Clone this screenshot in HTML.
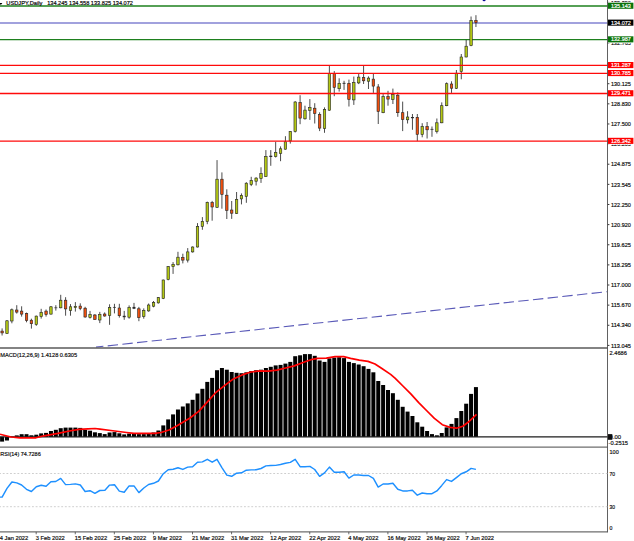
<!DOCTYPE html>
<html><head><meta charset="utf-8"><title>USDJPY Daily</title>
<style>html,body{margin:0;padding:0;background:#fff;}body{width:634px;height:541px;overflow:hidden;font-family:"Liberation Sans",sans-serif;}svg{display:block}</style>
</head><body>
<svg width="634" height="541" viewBox="0 0 634 541" font-family="'Liberation Sans', sans-serif" font-size="6.1" fill="#0c0c0c">
<rect width="634" height="541" fill="#fff"/>
<line x1="607.5" y1="345.40" x2="609.4" y2="345.40" stroke="#222" stroke-width="0.9"/>
<text x="611.0" y="347.5" textLength="19.9" lengthAdjust="spacingAndGlyphs" stroke="#0c0c0c" stroke-width="0.18">113.045</text>
<line x1="607.5" y1="325.27" x2="609.4" y2="325.27" stroke="#222" stroke-width="0.9"/>
<text x="611.0" y="327.4" textLength="19.9" lengthAdjust="spacingAndGlyphs" stroke="#0c0c0c" stroke-width="0.18">114.340</text>
<line x1="607.5" y1="305.14" x2="609.4" y2="305.14" stroke="#222" stroke-width="0.9"/>
<text x="611.0" y="307.3" textLength="19.9" lengthAdjust="spacingAndGlyphs" stroke="#0c0c0c" stroke-width="0.18">115.670</text>
<line x1="607.5" y1="285.01" x2="609.4" y2="285.01" stroke="#222" stroke-width="0.9"/>
<text x="611.0" y="287.2" textLength="19.9" lengthAdjust="spacingAndGlyphs" stroke="#0c0c0c" stroke-width="0.18">117.000</text>
<line x1="607.5" y1="264.88" x2="609.4" y2="264.88" stroke="#222" stroke-width="0.9"/>
<text x="611.0" y="267.0" textLength="19.9" lengthAdjust="spacingAndGlyphs" stroke="#0c0c0c" stroke-width="0.18">118.295</text>
<line x1="607.5" y1="244.75" x2="609.4" y2="244.75" stroke="#222" stroke-width="0.9"/>
<text x="611.0" y="246.9" textLength="19.9" lengthAdjust="spacingAndGlyphs" stroke="#0c0c0c" stroke-width="0.18">119.625</text>
<line x1="607.5" y1="224.62" x2="609.4" y2="224.62" stroke="#222" stroke-width="0.9"/>
<text x="611.0" y="226.8" textLength="19.9" lengthAdjust="spacingAndGlyphs" stroke="#0c0c0c" stroke-width="0.18">120.920</text>
<line x1="607.5" y1="204.49" x2="609.4" y2="204.49" stroke="#222" stroke-width="0.9"/>
<text x="611.0" y="206.6" textLength="19.9" lengthAdjust="spacingAndGlyphs" stroke="#0c0c0c" stroke-width="0.18">122.250</text>
<line x1="607.5" y1="184.36" x2="609.4" y2="184.36" stroke="#222" stroke-width="0.9"/>
<text x="611.0" y="186.5" textLength="19.9" lengthAdjust="spacingAndGlyphs" stroke="#0c0c0c" stroke-width="0.18">123.545</text>
<line x1="607.5" y1="164.23" x2="609.4" y2="164.23" stroke="#222" stroke-width="0.9"/>
<text x="611.0" y="166.4" textLength="19.9" lengthAdjust="spacingAndGlyphs" stroke="#0c0c0c" stroke-width="0.18">124.875</text>
<line x1="607.5" y1="144.10" x2="609.4" y2="144.10" stroke="#222" stroke-width="0.9"/>
<text x="611.0" y="146.2" textLength="19.9" lengthAdjust="spacingAndGlyphs" stroke="#0c0c0c" stroke-width="0.18">126.205</text>
<line x1="607.5" y1="123.97" x2="609.4" y2="123.97" stroke="#222" stroke-width="0.9"/>
<text x="611.0" y="126.1" textLength="19.9" lengthAdjust="spacingAndGlyphs" stroke="#0c0c0c" stroke-width="0.18">127.500</text>
<line x1="607.5" y1="103.84" x2="609.4" y2="103.84" stroke="#222" stroke-width="0.9"/>
<text x="611.0" y="106.0" textLength="19.9" lengthAdjust="spacingAndGlyphs" stroke="#0c0c0c" stroke-width="0.18">128.830</text>
<line x1="607.5" y1="83.71" x2="609.4" y2="83.71" stroke="#222" stroke-width="0.9"/>
<text x="611.0" y="85.9" textLength="19.9" lengthAdjust="spacingAndGlyphs" stroke="#0c0c0c" stroke-width="0.18">130.125</text>
<line x1="607.5" y1="63.58" x2="609.4" y2="63.58" stroke="#222" stroke-width="0.9"/>
<text x="611.0" y="65.7" textLength="19.9" lengthAdjust="spacingAndGlyphs" stroke="#0c0c0c" stroke-width="0.18">131.455</text>
<line x1="607.5" y1="42.95" x2="609.4" y2="42.95" stroke="#222" stroke-width="0.9"/>
<text x="611.0" y="45.1" textLength="19.9" lengthAdjust="spacingAndGlyphs" stroke="#0c0c0c" stroke-width="0.18">132.765</text>
<line x1="607.5" y1="23.32" x2="609.4" y2="23.32" stroke="#222" stroke-width="0.9"/>
<text x="611.0" y="25.5" textLength="19.9" lengthAdjust="spacingAndGlyphs" stroke="#0c0c0c" stroke-width="0.18">134.095</text>
<line x1="607.5" y1="2.39" x2="609.4" y2="2.39" stroke="#222" stroke-width="0.9"/>
<text x="611.0" y="4.5" textLength="19.9" lengthAdjust="spacingAndGlyphs" stroke="#0c0c0c" stroke-width="0.18">135.390</text>
<line x1="0" y1="6.00" x2="607.5" y2="6.00" stroke="#1e801e" stroke-width="1.3"/>
<line x1="0" y1="22.90" x2="607.5" y2="22.90" stroke="#8282d2" stroke-width="1.55"/>
<line x1="0" y1="39.60" x2="607.5" y2="39.60" stroke="#1e801e" stroke-width="1.3"/>
<line x1="96.0" y1="347.1" x2="606.9" y2="291.7" stroke="#5a5ab8" stroke-width="1.1" stroke-dasharray="10.4 4.35" stroke-dashoffset="2.98"/>
<path d="M-0.8 2.9 L2.4 2.9 L0.8 4.9 Z" fill="#000"/>
<text x="6.3" y="5.2" textLength="36.1" lengthAdjust="spacingAndGlyphs" fill="#000" stroke="#000" stroke-width="0.18">USDJPY,Daily</text>
<text x="47.2" y="5.2" textLength="85.8" lengthAdjust="spacingAndGlyphs" fill="#000" stroke="#000" stroke-width="0.18">134.245 134.558 133.825 134.072</text>
<circle cx="484.1" cy="-0.3" r="1.6" fill="#0a0a96"/>
<line x1="2.10" y1="328.4" x2="2.10" y2="335.5" stroke="#1e1e1e" stroke-width="0.8"/>
<rect x="0.88" y="331.10" width="2.45" height="1.80" fill="#f0500f" stroke="#222" stroke-width="0.6"/>
<line x1="6.98" y1="320.0" x2="6.98" y2="333.7" stroke="#1e1e1e" stroke-width="0.8"/>
<rect x="5.76" y="320.80" width="2.45" height="12.90" fill="#b4c814" stroke="#222" stroke-width="0.6"/>
<line x1="11.87" y1="308.5" x2="11.87" y2="323.3" stroke="#1e1e1e" stroke-width="0.8"/>
<rect x="10.64" y="309.80" width="2.45" height="11.20" fill="#b4c814" stroke="#222" stroke-width="0.6"/>
<line x1="16.75" y1="305.2" x2="16.75" y2="313.6" stroke="#1e1e1e" stroke-width="0.8"/>
<rect x="15.53" y="310.00" width="2.45" height="2.10" fill="#f0500f" stroke="#222" stroke-width="0.6"/>
<line x1="21.64" y1="306.3" x2="21.64" y2="316.6" stroke="#1e1e1e" stroke-width="0.8"/>
<rect x="20.41" y="311.10" width="2.45" height="3.00" fill="#f0500f" stroke="#222" stroke-width="0.6"/>
<line x1="26.52" y1="312.6" x2="26.52" y2="322.3" stroke="#1e1e1e" stroke-width="0.8"/>
<rect x="25.30" y="313.60" width="2.45" height="6.90" fill="#f0500f" stroke="#222" stroke-width="0.6"/>
<line x1="31.41" y1="318.7" x2="31.41" y2="328.6" stroke="#1e1e1e" stroke-width="0.8"/>
<rect x="30.18" y="320.20" width="2.45" height="3.50" fill="#f0500f" stroke="#222" stroke-width="0.6"/>
<line x1="36.30" y1="315.6" x2="36.30" y2="325.8" stroke="#1e1e1e" stroke-width="0.8"/>
<rect x="35.07" y="316.10" width="2.45" height="8.40" fill="#b4c814" stroke="#222" stroke-width="0.6"/>
<line x1="41.18" y1="308.8" x2="41.18" y2="318.6" stroke="#1e1e1e" stroke-width="0.8"/>
<rect x="39.95" y="312.30" width="2.45" height="4.30" fill="#b4c814" stroke="#222" stroke-width="0.6"/>
<line x1="46.06" y1="309.5" x2="46.06" y2="316.6" stroke="#1e1e1e" stroke-width="0.8"/>
<rect x="44.84" y="311.10" width="2.45" height="3.50" fill="#f0500f" stroke="#222" stroke-width="0.6"/>
<line x1="50.95" y1="306.0" x2="50.95" y2="314.6" stroke="#1e1e1e" stroke-width="0.8"/>
<rect x="49.72" y="306.80" width="2.45" height="7.30" fill="#b4c814" stroke="#222" stroke-width="0.6"/>
<line x1="55.84" y1="305.2" x2="55.84" y2="310.6" stroke="#1e1e1e" stroke-width="0.8"/>
<line x1="54.34" y1="307.75" x2="57.34" y2="307.75" stroke="#2a2a2a" stroke-width="0.7"/>
<line x1="60.72" y1="294.8" x2="60.72" y2="308.3" stroke="#1e1e1e" stroke-width="0.8"/>
<rect x="59.49" y="300.20" width="2.45" height="7.60" fill="#b4c814" stroke="#222" stroke-width="0.6"/>
<line x1="65.60" y1="297.2" x2="65.60" y2="315.7" stroke="#1e1e1e" stroke-width="0.8"/>
<rect x="64.38" y="300.20" width="2.45" height="8.70" fill="#f0500f" stroke="#222" stroke-width="0.6"/>
<line x1="70.49" y1="304.1" x2="70.49" y2="315.7" stroke="#1e1e1e" stroke-width="0.8"/>
<rect x="69.27" y="306.80" width="2.45" height="3.60" fill="#b4c814" stroke="#222" stroke-width="0.6"/>
<line x1="75.37" y1="302.1" x2="75.37" y2="311.6" stroke="#1e1e1e" stroke-width="0.8"/>
<rect x="74.15" y="306.30" width="2.45" height="1.30" fill="#b4c814" stroke="#222" stroke-width="0.6"/>
<line x1="80.26" y1="303.3" x2="80.26" y2="310.2" stroke="#1e1e1e" stroke-width="0.8"/>
<rect x="79.03" y="306.10" width="2.45" height="2.50" fill="#f0500f" stroke="#222" stroke-width="0.6"/>
<line x1="85.14" y1="306.8" x2="85.14" y2="317.7" stroke="#1e1e1e" stroke-width="0.8"/>
<rect x="83.92" y="308.20" width="2.45" height="8.80" fill="#f0500f" stroke="#222" stroke-width="0.6"/>
<line x1="90.03" y1="310.9" x2="90.03" y2="318.5" stroke="#1e1e1e" stroke-width="0.8"/>
<rect x="88.80" y="314.50" width="2.45" height="3.00" fill="#b4c814" stroke="#222" stroke-width="0.6"/>
<line x1="94.91" y1="314.0" x2="94.91" y2="319.7" stroke="#1e1e1e" stroke-width="0.8"/>
<rect x="93.69" y="315.00" width="2.45" height="4.50" fill="#f0500f" stroke="#222" stroke-width="0.6"/>
<line x1="99.80" y1="311.9" x2="99.80" y2="323.1" stroke="#1e1e1e" stroke-width="0.8"/>
<rect x="98.57" y="314.30" width="2.45" height="5.70" fill="#b4c814" stroke="#222" stroke-width="0.6"/>
<line x1="104.68" y1="312.4" x2="104.68" y2="316.7" stroke="#1e1e1e" stroke-width="0.8"/>
<rect x="103.46" y="314.00" width="2.45" height="2.00" fill="#f0500f" stroke="#222" stroke-width="0.6"/>
<line x1="109.57" y1="304.3" x2="109.57" y2="324.8" stroke="#1e1e1e" stroke-width="0.8"/>
<rect x="108.34" y="307.60" width="2.45" height="7.90" fill="#b4c814" stroke="#222" stroke-width="0.6"/>
<line x1="114.45" y1="303.8" x2="114.45" y2="313.4" stroke="#1e1e1e" stroke-width="0.8"/>
<line x1="112.95" y1="307.45" x2="115.95" y2="307.45" stroke="#2a2a2a" stroke-width="0.7"/>
<line x1="119.34" y1="303.8" x2="119.34" y2="317.6" stroke="#1e1e1e" stroke-width="0.8"/>
<rect x="118.11" y="308.00" width="2.45" height="7.70" fill="#f0500f" stroke="#222" stroke-width="0.6"/>
<line x1="124.22" y1="310.9" x2="124.22" y2="319.8" stroke="#1e1e1e" stroke-width="0.8"/>
<line x1="122.72" y1="316.50" x2="125.72" y2="316.50" stroke="#2a2a2a" stroke-width="1.4"/>
<line x1="129.11" y1="305.4" x2="129.11" y2="318.7" stroke="#1e1e1e" stroke-width="0.8"/>
<rect x="127.88" y="307.30" width="2.45" height="9.90" fill="#b4c814" stroke="#222" stroke-width="0.6"/>
<line x1="133.99" y1="302.9" x2="133.99" y2="309.1" stroke="#1e1e1e" stroke-width="0.8"/>
<line x1="132.49" y1="307.80" x2="135.49" y2="307.80" stroke="#2a2a2a" stroke-width="1.8"/>
<line x1="138.88" y1="306.9" x2="138.88" y2="321.2" stroke="#1e1e1e" stroke-width="0.8"/>
<rect x="137.66" y="308.80" width="2.45" height="8.90" fill="#f0500f" stroke="#222" stroke-width="0.6"/>
<line x1="143.76" y1="308.4" x2="143.76" y2="318.7" stroke="#1e1e1e" stroke-width="0.8"/>
<rect x="142.54" y="310.30" width="2.45" height="6.20" fill="#b4c814" stroke="#222" stroke-width="0.6"/>
<line x1="148.65" y1="303.5" x2="148.65" y2="311.8" stroke="#1e1e1e" stroke-width="0.8"/>
<rect x="147.42" y="305.00" width="2.45" height="5.90" fill="#b4c814" stroke="#222" stroke-width="0.6"/>
<line x1="153.53" y1="301.0" x2="153.53" y2="307.3" stroke="#1e1e1e" stroke-width="0.8"/>
<rect x="152.31" y="302.50" width="2.45" height="3.70" fill="#b4c814" stroke="#222" stroke-width="0.6"/>
<line x1="158.42" y1="297.0" x2="158.42" y2="303.5" stroke="#1e1e1e" stroke-width="0.8"/>
<rect x="157.19" y="297.60" width="2.45" height="5.30" fill="#b4c814" stroke="#222" stroke-width="0.6"/>
<line x1="163.30" y1="279.6" x2="163.30" y2="299.1" stroke="#1e1e1e" stroke-width="0.8"/>
<rect x="162.08" y="280.00" width="2.45" height="18.50" fill="#b4c814" stroke="#222" stroke-width="0.6"/>
<line x1="168.19" y1="266.0" x2="168.19" y2="280.3" stroke="#1e1e1e" stroke-width="0.8"/>
<rect x="166.97" y="266.60" width="2.45" height="13.00" fill="#b4c814" stroke="#222" stroke-width="0.6"/>
<line x1="173.07" y1="262.1" x2="173.07" y2="273.9" stroke="#1e1e1e" stroke-width="0.8"/>
<rect x="171.85" y="264.30" width="2.45" height="2.30" fill="#b4c814" stroke="#222" stroke-width="0.6"/>
<line x1="177.96" y1="251.8" x2="177.96" y2="265.4" stroke="#1e1e1e" stroke-width="0.8"/>
<rect x="176.73" y="257.20" width="2.45" height="7.60" fill="#b4c814" stroke="#222" stroke-width="0.6"/>
<line x1="182.84" y1="253.7" x2="182.84" y2="263.4" stroke="#1e1e1e" stroke-width="0.8"/>
<rect x="181.62" y="257.40" width="2.45" height="2.70" fill="#f0500f" stroke="#222" stroke-width="0.6"/>
<line x1="187.73" y1="248.1" x2="187.73" y2="262.5" stroke="#1e1e1e" stroke-width="0.8"/>
<rect x="186.50" y="251.90" width="2.45" height="8.20" fill="#b4c814" stroke="#222" stroke-width="0.6"/>
<line x1="192.61" y1="246.4" x2="192.61" y2="252.6" stroke="#1e1e1e" stroke-width="0.8"/>
<rect x="191.39" y="247.00" width="2.45" height="4.90" fill="#b4c814" stroke="#222" stroke-width="0.6"/>
<line x1="197.50" y1="223.1" x2="197.50" y2="247.5" stroke="#1e1e1e" stroke-width="0.8"/>
<rect x="196.27" y="226.40" width="2.45" height="20.60" fill="#b4c814" stroke="#222" stroke-width="0.6"/>
<line x1="202.38" y1="217.1" x2="202.38" y2="229.8" stroke="#1e1e1e" stroke-width="0.8"/>
<rect x="201.16" y="221.30" width="2.45" height="5.10" fill="#b4c814" stroke="#222" stroke-width="0.6"/>
<line x1="207.27" y1="201.6" x2="207.27" y2="224.2" stroke="#1e1e1e" stroke-width="0.8"/>
<rect x="206.04" y="202.30" width="2.45" height="19.20" fill="#b4c814" stroke="#222" stroke-width="0.6"/>
<line x1="212.15" y1="200.9" x2="212.15" y2="220.7" stroke="#1e1e1e" stroke-width="0.8"/>
<rect x="210.93" y="202.50" width="2.45" height="4.50" fill="#f0500f" stroke="#222" stroke-width="0.6"/>
<line x1="217.04" y1="160.1" x2="217.04" y2="207.9" stroke="#1e1e1e" stroke-width="0.8"/>
<rect x="215.81" y="179.20" width="2.45" height="28.10" fill="#b4c814" stroke="#222" stroke-width="0.6"/>
<line x1="221.92" y1="172.4" x2="221.92" y2="208.7" stroke="#1e1e1e" stroke-width="0.8"/>
<rect x="220.70" y="179.20" width="2.45" height="15.20" fill="#f0500f" stroke="#222" stroke-width="0.6"/>
<line x1="226.81" y1="189.3" x2="226.81" y2="219.0" stroke="#1e1e1e" stroke-width="0.8"/>
<rect x="225.58" y="195.20" width="2.45" height="15.10" fill="#f0500f" stroke="#222" stroke-width="0.6"/>
<line x1="231.69" y1="201.0" x2="231.69" y2="218.9" stroke="#1e1e1e" stroke-width="0.8"/>
<rect x="230.47" y="210.00" width="2.45" height="3.20" fill="#f0500f" stroke="#222" stroke-width="0.6"/>
<line x1="236.58" y1="192.0" x2="236.58" y2="214.0" stroke="#1e1e1e" stroke-width="0.8"/>
<rect x="235.35" y="199.30" width="2.45" height="14.20" fill="#b4c814" stroke="#222" stroke-width="0.6"/>
<line x1="241.46" y1="193.4" x2="241.46" y2="204.4" stroke="#1e1e1e" stroke-width="0.8"/>
<rect x="240.24" y="195.50" width="2.45" height="3.40" fill="#b4c814" stroke="#222" stroke-width="0.6"/>
<line x1="246.35" y1="182.2" x2="246.35" y2="202.8" stroke="#1e1e1e" stroke-width="0.8"/>
<rect x="245.12" y="183.20" width="2.45" height="13.20" fill="#b4c814" stroke="#222" stroke-width="0.6"/>
<line x1="251.23" y1="176.8" x2="251.23" y2="186.1" stroke="#1e1e1e" stroke-width="0.8"/>
<rect x="250.01" y="180.50" width="2.45" height="4.10" fill="#b4c814" stroke="#222" stroke-width="0.6"/>
<line x1="256.12" y1="177.2" x2="256.12" y2="185.5" stroke="#1e1e1e" stroke-width="0.8"/>
<rect x="254.90" y="178.10" width="2.45" height="3.10" fill="#b4c814" stroke="#222" stroke-width="0.6"/>
<line x1="261.00" y1="167.3" x2="261.00" y2="182.9" stroke="#1e1e1e" stroke-width="0.8"/>
<rect x="259.78" y="173.60" width="2.45" height="4.80" fill="#b4c814" stroke="#222" stroke-width="0.6"/>
<line x1="265.89" y1="150.1" x2="265.89" y2="176.9" stroke="#1e1e1e" stroke-width="0.8"/>
<rect x="264.66" y="156.60" width="2.45" height="20.00" fill="#b4c814" stroke="#222" stroke-width="0.6"/>
<line x1="270.78" y1="150.1" x2="270.78" y2="165.8" stroke="#1e1e1e" stroke-width="0.8"/>
<line x1="269.28" y1="156.35" x2="272.28" y2="156.35" stroke="#2a2a2a" stroke-width="1.3"/>
<line x1="275.66" y1="141.8" x2="275.66" y2="157.5" stroke="#1e1e1e" stroke-width="0.8"/>
<rect x="274.44" y="152.30" width="2.45" height="4.30" fill="#b4c814" stroke="#222" stroke-width="0.6"/>
<line x1="280.55" y1="146.4" x2="280.55" y2="161.2" stroke="#1e1e1e" stroke-width="0.8"/>
<rect x="279.32" y="148.80" width="2.45" height="4.60" fill="#b4c814" stroke="#222" stroke-width="0.6"/>
<line x1="285.43" y1="136.2" x2="285.43" y2="149.6" stroke="#1e1e1e" stroke-width="0.8"/>
<rect x="284.20" y="141.80" width="2.45" height="7.40" fill="#b4c814" stroke="#222" stroke-width="0.6"/>
<line x1="290.31" y1="131.1" x2="290.31" y2="143.6" stroke="#1e1e1e" stroke-width="0.8"/>
<rect x="289.09" y="131.60" width="2.45" height="9.30" fill="#b4c814" stroke="#222" stroke-width="0.6"/>
<line x1="295.20" y1="101.1" x2="295.20" y2="132.5" stroke="#1e1e1e" stroke-width="0.8"/>
<rect x="293.97" y="102.00" width="2.45" height="29.60" fill="#b4c814" stroke="#222" stroke-width="0.6"/>
<line x1="300.09" y1="95.2" x2="300.09" y2="124.2" stroke="#1e1e1e" stroke-width="0.8"/>
<rect x="298.86" y="102.60" width="2.45" height="15.50" fill="#f0500f" stroke="#222" stroke-width="0.6"/>
<line x1="304.97" y1="105.7" x2="304.97" y2="119.6" stroke="#1e1e1e" stroke-width="0.8"/>
<rect x="303.75" y="110.10" width="2.45" height="8.70" fill="#b4c814" stroke="#222" stroke-width="0.6"/>
<line x1="309.86" y1="99.1" x2="309.86" y2="119.9" stroke="#1e1e1e" stroke-width="0.8"/>
<rect x="308.63" y="107.50" width="2.45" height="2.80" fill="#b4c814" stroke="#222" stroke-width="0.6"/>
<line x1="314.74" y1="103.2" x2="314.74" y2="123.5" stroke="#1e1e1e" stroke-width="0.8"/>
<rect x="313.51" y="108.20" width="2.45" height="5.30" fill="#f0500f" stroke="#222" stroke-width="0.6"/>
<line x1="319.62" y1="112.3" x2="319.62" y2="131.1" stroke="#1e1e1e" stroke-width="0.8"/>
<rect x="318.40" y="114.50" width="2.45" height="13.60" fill="#f0500f" stroke="#222" stroke-width="0.6"/>
<line x1="324.51" y1="107.4" x2="324.51" y2="132.8" stroke="#1e1e1e" stroke-width="0.8"/>
<rect x="323.28" y="109.50" width="2.45" height="19.00" fill="#b4c814" stroke="#222" stroke-width="0.6"/>
<line x1="329.39" y1="65.8" x2="329.39" y2="110.7" stroke="#1e1e1e" stroke-width="0.8"/>
<rect x="328.17" y="73.60" width="2.45" height="36.60" fill="#b4c814" stroke="#222" stroke-width="0.6"/>
<line x1="334.28" y1="71.1" x2="334.28" y2="96.2" stroke="#1e1e1e" stroke-width="0.8"/>
<rect x="333.06" y="73.60" width="2.45" height="13.80" fill="#f0500f" stroke="#222" stroke-width="0.6"/>
<line x1="339.17" y1="78.3" x2="339.17" y2="91.6" stroke="#1e1e1e" stroke-width="0.8"/>
<rect x="337.94" y="83.30" width="2.45" height="5.40" fill="#b4c814" stroke="#222" stroke-width="0.6"/>
<line x1="344.05" y1="80.8" x2="344.05" y2="89.9" stroke="#1e1e1e" stroke-width="0.8"/>
<line x1="342.55" y1="83.35" x2="345.55" y2="83.35" stroke="#2a2a2a" stroke-width="0.9"/>
<line x1="348.94" y1="79.6" x2="348.94" y2="106.5" stroke="#1e1e1e" stroke-width="0.8"/>
<rect x="347.71" y="83.30" width="2.45" height="16.20" fill="#f0500f" stroke="#222" stroke-width="0.6"/>
<line x1="353.82" y1="76.6" x2="353.82" y2="104.9" stroke="#1e1e1e" stroke-width="0.8"/>
<rect x="352.59" y="82.40" width="2.45" height="17.50" fill="#b4c814" stroke="#222" stroke-width="0.6"/>
<line x1="358.70" y1="73.3" x2="358.70" y2="84.1" stroke="#1e1e1e" stroke-width="0.8"/>
<rect x="357.48" y="77.10" width="2.45" height="5.80" fill="#b4c814" stroke="#222" stroke-width="0.6"/>
<line x1="363.59" y1="65.6" x2="363.59" y2="84.0" stroke="#1e1e1e" stroke-width="0.8"/>
<rect x="362.37" y="77.60" width="2.45" height="3.20" fill="#f0500f" stroke="#222" stroke-width="0.6"/>
<line x1="368.48" y1="76.4" x2="368.48" y2="89.0" stroke="#1e1e1e" stroke-width="0.8"/>
<rect x="367.25" y="78.10" width="2.45" height="3.10" fill="#b4c814" stroke="#222" stroke-width="0.6"/>
<line x1="373.36" y1="73.6" x2="373.36" y2="92.9" stroke="#1e1e1e" stroke-width="0.8"/>
<rect x="372.13" y="79.10" width="2.45" height="7.00" fill="#f0500f" stroke="#222" stroke-width="0.6"/>
<line x1="378.25" y1="84.1" x2="378.25" y2="124.0" stroke="#1e1e1e" stroke-width="0.8"/>
<rect x="377.02" y="86.90" width="2.45" height="24.60" fill="#f0500f" stroke="#222" stroke-width="0.6"/>
<line x1="383.13" y1="94.1" x2="383.13" y2="113.2" stroke="#1e1e1e" stroke-width="0.8"/>
<rect x="381.90" y="96.60" width="2.45" height="16.10" fill="#b4c814" stroke="#222" stroke-width="0.6"/>
<line x1="388.01" y1="90.8" x2="388.01" y2="105.7" stroke="#1e1e1e" stroke-width="0.8"/>
<rect x="386.79" y="96.60" width="2.45" height="2.50" fill="#f0500f" stroke="#222" stroke-width="0.6"/>
<line x1="392.90" y1="88.6" x2="392.90" y2="104.0" stroke="#1e1e1e" stroke-width="0.8"/>
<rect x="391.67" y="94.60" width="2.45" height="5.00" fill="#b4c814" stroke="#222" stroke-width="0.6"/>
<line x1="397.79" y1="92.4" x2="397.79" y2="116.8" stroke="#1e1e1e" stroke-width="0.8"/>
<rect x="396.56" y="95.20" width="2.45" height="17.50" fill="#f0500f" stroke="#222" stroke-width="0.6"/>
<line x1="402.67" y1="101.6" x2="402.67" y2="131.1" stroke="#1e1e1e" stroke-width="0.8"/>
<rect x="401.44" y="112.70" width="2.45" height="6.80" fill="#f0500f" stroke="#222" stroke-width="0.6"/>
<line x1="407.56" y1="111.2" x2="407.56" y2="123.5" stroke="#1e1e1e" stroke-width="0.8"/>
<rect x="406.33" y="117.00" width="2.45" height="2.80" fill="#b4c814" stroke="#222" stroke-width="0.6"/>
<line x1="412.44" y1="114.0" x2="412.44" y2="129.8" stroke="#1e1e1e" stroke-width="0.8"/>
<line x1="410.94" y1="117.60" x2="413.94" y2="117.60" stroke="#2a2a2a" stroke-width="1.2"/>
<line x1="417.32" y1="114.0" x2="417.32" y2="141.1" stroke="#1e1e1e" stroke-width="0.8"/>
<rect x="416.10" y="117.30" width="2.45" height="17.00" fill="#f0500f" stroke="#222" stroke-width="0.6"/>
<line x1="422.21" y1="123.2" x2="422.21" y2="137.3" stroke="#1e1e1e" stroke-width="0.8"/>
<rect x="420.98" y="126.50" width="2.45" height="8.00" fill="#b4c814" stroke="#222" stroke-width="0.6"/>
<line x1="427.10" y1="122.0" x2="427.10" y2="138.5" stroke="#1e1e1e" stroke-width="0.8"/>
<rect x="425.87" y="126.50" width="2.45" height="3.30" fill="#f0500f" stroke="#222" stroke-width="0.6"/>
<line x1="431.98" y1="126.5" x2="431.98" y2="136.8" stroke="#1e1e1e" stroke-width="0.8"/>
<line x1="430.48" y1="129.40" x2="433.48" y2="129.40" stroke="#2a2a2a" stroke-width="0.8"/>
<line x1="436.87" y1="118.5" x2="436.87" y2="133.5" stroke="#1e1e1e" stroke-width="0.8"/>
<rect x="435.64" y="122.80" width="2.45" height="8.70" fill="#b4c814" stroke="#222" stroke-width="0.6"/>
<line x1="441.75" y1="102.4" x2="441.75" y2="123.2" stroke="#1e1e1e" stroke-width="0.8"/>
<rect x="440.52" y="105.70" width="2.45" height="17.10" fill="#b4c814" stroke="#222" stroke-width="0.6"/>
<line x1="446.63" y1="82.4" x2="446.63" y2="106.2" stroke="#1e1e1e" stroke-width="0.8"/>
<rect x="445.41" y="83.70" width="2.45" height="22.00" fill="#b4c814" stroke="#222" stroke-width="0.6"/>
<line x1="451.52" y1="81.3" x2="451.52" y2="92.9" stroke="#1e1e1e" stroke-width="0.8"/>
<rect x="450.29" y="84.00" width="2.45" height="4.20" fill="#f0500f" stroke="#222" stroke-width="0.6"/>
<line x1="456.41" y1="70.0" x2="456.41" y2="89.0" stroke="#1e1e1e" stroke-width="0.8"/>
<rect x="455.18" y="73.20" width="2.45" height="15.20" fill="#b4c814" stroke="#222" stroke-width="0.6"/>
<line x1="461.29" y1="54.0" x2="461.29" y2="79.3" stroke="#1e1e1e" stroke-width="0.8"/>
<rect x="460.06" y="57.00" width="2.45" height="14.50" fill="#b4c814" stroke="#222" stroke-width="0.6"/>
<line x1="466.18" y1="39.9" x2="466.18" y2="57.3" stroke="#1e1e1e" stroke-width="0.8"/>
<rect x="464.95" y="46.20" width="2.45" height="10.80" fill="#b4c814" stroke="#222" stroke-width="0.6"/>
<line x1="471.06" y1="16.5" x2="471.06" y2="46.2" stroke="#1e1e1e" stroke-width="0.8"/>
<rect x="469.83" y="20.40" width="2.45" height="25.30" fill="#b4c814" stroke="#222" stroke-width="0.6"/>
<line x1="475.94" y1="15.2" x2="475.94" y2="27.0" stroke="#1e1e1e" stroke-width="0.8"/>
<rect x="474.72" y="20.40" width="2.45" height="2.30" fill="#f0500f" stroke="#222" stroke-width="0.6"/>
<line x1="0" y1="65.30" x2="607.5" y2="65.30" stroke="#ff0a0a" stroke-width="1.35"/>
<line x1="0" y1="73.30" x2="607.5" y2="73.30" stroke="#ff0a0a" stroke-width="1.35"/>
<line x1="0" y1="93.50" x2="607.5" y2="93.50" stroke="#ff0a0a" stroke-width="1.35"/>
<line x1="0" y1="141.10" x2="607.5" y2="141.10" stroke="#ff0a0a" stroke-width="1.35"/>
<line x1="0" y1="347.9" x2="607.5" y2="347.9" stroke="#5a5a5a" stroke-width="1.5"/>
<line x1="0" y1="447.1" x2="607.5" y2="447.1" stroke="#6e6e6e" stroke-width="1.4"/>
<line x1="0" y1="531.9" x2="607.5" y2="531.9" stroke="#6e6e6e" stroke-width="1.3"/>
<line x1="607.5" y1="0" x2="607.5" y2="532.4" stroke="#444" stroke-width="0.85"/>
<rect x="0.10" y="436.90" width="4.0" height="4.70" fill="#000"/>
<rect x="4.98" y="436.90" width="4.0" height="3.60" fill="#000"/>
<rect x="9.87" y="436.50" width="4.0" height="0.40" fill="#000"/>
<rect x="14.75" y="435.40" width="4.0" height="1.50" fill="#000"/>
<rect x="19.64" y="434.20" width="4.0" height="2.70" fill="#000"/>
<rect x="24.52" y="434.20" width="4.0" height="2.70" fill="#000"/>
<rect x="29.41" y="435.30" width="4.0" height="1.60" fill="#000"/>
<rect x="34.30" y="434.70" width="4.0" height="2.20" fill="#000"/>
<rect x="39.18" y="433.40" width="4.0" height="3.50" fill="#000"/>
<rect x="44.06" y="432.90" width="4.0" height="4.00" fill="#000"/>
<rect x="48.95" y="431.00" width="4.0" height="5.90" fill="#000"/>
<rect x="53.84" y="429.80" width="4.0" height="7.10" fill="#000"/>
<rect x="58.72" y="428.20" width="4.0" height="8.70" fill="#000"/>
<rect x="63.60" y="427.60" width="4.0" height="9.30" fill="#000"/>
<rect x="68.49" y="427.60" width="4.0" height="9.30" fill="#000"/>
<rect x="73.37" y="427.60" width="4.0" height="9.30" fill="#000"/>
<rect x="78.26" y="427.90" width="4.0" height="9.00" fill="#000"/>
<rect x="83.14" y="429.90" width="4.0" height="7.00" fill="#000"/>
<rect x="88.03" y="430.70" width="4.0" height="6.20" fill="#000"/>
<rect x="92.91" y="432.30" width="4.0" height="4.60" fill="#000"/>
<rect x="97.80" y="433.10" width="4.0" height="3.80" fill="#000"/>
<rect x="102.68" y="434.10" width="4.0" height="2.80" fill="#000"/>
<rect x="107.57" y="432.50" width="4.0" height="4.40" fill="#000"/>
<rect x="112.45" y="432.10" width="4.0" height="4.80" fill="#000"/>
<rect x="117.34" y="433.30" width="4.0" height="3.60" fill="#000"/>
<rect x="122.22" y="434.40" width="4.0" height="2.50" fill="#000"/>
<rect x="127.11" y="433.60" width="4.0" height="3.30" fill="#000"/>
<rect x="131.99" y="433.60" width="4.0" height="3.30" fill="#000"/>
<rect x="136.88" y="434.10" width="4.0" height="2.80" fill="#000"/>
<rect x="141.76" y="434.10" width="4.0" height="2.80" fill="#000"/>
<rect x="146.65" y="433.60" width="4.0" height="3.30" fill="#000"/>
<rect x="151.53" y="432.50" width="4.0" height="4.40" fill="#000"/>
<rect x="156.42" y="430.50" width="4.0" height="6.40" fill="#000"/>
<rect x="161.30" y="425.40" width="4.0" height="11.50" fill="#000"/>
<rect x="166.19" y="419.40" width="4.0" height="17.50" fill="#000"/>
<rect x="171.07" y="414.40" width="4.0" height="22.50" fill="#000"/>
<rect x="175.96" y="409.50" width="4.0" height="27.40" fill="#000"/>
<rect x="180.84" y="406.50" width="4.0" height="30.40" fill="#000"/>
<rect x="185.73" y="403.40" width="4.0" height="33.50" fill="#000"/>
<rect x="190.61" y="399.80" width="4.0" height="37.10" fill="#000"/>
<rect x="195.50" y="393.50" width="4.0" height="43.40" fill="#000"/>
<rect x="200.38" y="388.80" width="4.0" height="48.10" fill="#000"/>
<rect x="205.27" y="381.90" width="4.0" height="55.00" fill="#000"/>
<rect x="210.15" y="377.90" width="4.0" height="59.00" fill="#000"/>
<rect x="215.04" y="370.20" width="4.0" height="66.70" fill="#000"/>
<rect x="219.92" y="368.00" width="4.0" height="68.90" fill="#000"/>
<rect x="224.81" y="369.70" width="4.0" height="67.20" fill="#000"/>
<rect x="229.69" y="372.00" width="4.0" height="64.90" fill="#000"/>
<rect x="234.58" y="372.80" width="4.0" height="64.10" fill="#000"/>
<rect x="239.46" y="373.20" width="4.0" height="63.70" fill="#000"/>
<rect x="244.35" y="372.30" width="4.0" height="64.60" fill="#000"/>
<rect x="249.23" y="371.10" width="4.0" height="65.80" fill="#000"/>
<rect x="254.12" y="370.20" width="4.0" height="66.70" fill="#000"/>
<rect x="259.00" y="369.70" width="4.0" height="67.20" fill="#000"/>
<rect x="263.89" y="368.00" width="4.0" height="68.90" fill="#000"/>
<rect x="268.78" y="366.80" width="4.0" height="70.10" fill="#000"/>
<rect x="273.66" y="365.40" width="4.0" height="71.50" fill="#000"/>
<rect x="278.55" y="364.90" width="4.0" height="72.00" fill="#000"/>
<rect x="283.43" y="363.60" width="4.0" height="73.30" fill="#000"/>
<rect x="288.31" y="361.90" width="4.0" height="75.00" fill="#000"/>
<rect x="293.20" y="356.20" width="4.0" height="80.70" fill="#000"/>
<rect x="298.09" y="355.30" width="4.0" height="81.60" fill="#000"/>
<rect x="302.97" y="354.10" width="4.0" height="82.80" fill="#000"/>
<rect x="307.86" y="354.10" width="4.0" height="82.80" fill="#000"/>
<rect x="312.74" y="355.80" width="4.0" height="81.10" fill="#000"/>
<rect x="317.62" y="360.50" width="4.0" height="76.40" fill="#000"/>
<rect x="322.51" y="361.90" width="4.0" height="75.00" fill="#000"/>
<rect x="327.39" y="358.40" width="4.0" height="78.50" fill="#000"/>
<rect x="332.28" y="357.60" width="4.0" height="79.30" fill="#000"/>
<rect x="337.17" y="357.20" width="4.0" height="79.70" fill="#000"/>
<rect x="342.05" y="358.10" width="4.0" height="78.80" fill="#000"/>
<rect x="346.94" y="361.90" width="4.0" height="75.00" fill="#000"/>
<rect x="351.82" y="363.10" width="4.0" height="73.80" fill="#000"/>
<rect x="356.70" y="364.50" width="4.0" height="72.40" fill="#000"/>
<rect x="361.59" y="366.20" width="4.0" height="70.70" fill="#000"/>
<rect x="366.48" y="368.90" width="4.0" height="68.00" fill="#000"/>
<rect x="371.36" y="372.30" width="4.0" height="64.60" fill="#000"/>
<rect x="376.25" y="381.00" width="4.0" height="55.90" fill="#000"/>
<rect x="381.13" y="385.00" width="4.0" height="51.90" fill="#000"/>
<rect x="386.01" y="390.00" width="4.0" height="46.90" fill="#000"/>
<rect x="390.90" y="393.20" width="4.0" height="43.70" fill="#000"/>
<rect x="395.79" y="399.80" width="4.0" height="37.10" fill="#000"/>
<rect x="400.67" y="406.80" width="4.0" height="30.10" fill="#000"/>
<rect x="405.56" y="411.60" width="4.0" height="25.30" fill="#000"/>
<rect x="410.44" y="416.00" width="4.0" height="20.90" fill="#000"/>
<rect x="415.32" y="422.30" width="4.0" height="14.60" fill="#000"/>
<rect x="420.21" y="426.70" width="4.0" height="10.20" fill="#000"/>
<rect x="425.10" y="431.00" width="4.0" height="5.90" fill="#000"/>
<rect x="429.98" y="434.10" width="4.0" height="2.80" fill="#000"/>
<rect x="434.87" y="435.30" width="4.0" height="1.60" fill="#000"/>
<rect x="439.75" y="433.00" width="4.0" height="3.90" fill="#000"/>
<rect x="444.63" y="427.40" width="4.0" height="9.50" fill="#000"/>
<rect x="449.52" y="423.90" width="4.0" height="13.00" fill="#000"/>
<rect x="454.41" y="418.10" width="4.0" height="18.80" fill="#000"/>
<rect x="459.29" y="411.00" width="4.0" height="25.90" fill="#000"/>
<rect x="464.18" y="403.70" width="4.0" height="33.20" fill="#000"/>
<rect x="469.06" y="393.90" width="4.0" height="43.00" fill="#000"/>
<rect x="473.94" y="387.10" width="4.0" height="49.80" fill="#000"/>
<line x1="0" y1="436.9" x2="607.5" y2="436.9" stroke="#1c1c1c" stroke-width="1.4"/>
<polyline fill="none" stroke="#ff0000" stroke-width="1.7" stroke-linejoin="round" points="0.0,434.2 5.0,435.5 11.0,437.0 20.0,437.8 36.0,437.8 44.0,435.8 58.0,433.4 69.4,431.0 78.9,429.4 88.0,428.8 95.0,428.5 100.0,429.2 110.8,430.5 126.5,432.5 134.0,433.3 155.0,433.3 161.0,432.5 169.0,430.0 177.0,425.8 185.0,421.0 190.0,418.0 198.7,411.4 207.4,401.9 216.0,392.3 224.8,385.4 233.4,378.9 242.1,374.9 250.8,372.0 259.5,370.9 268.2,371.1 276.9,370.1 285.6,368.0 294.3,365.9 303.7,362.2 312.4,359.3 317.6,358.4 326.3,358.1 335.0,356.7 343.7,356.7 350.6,358.4 359.3,360.2 368.0,361.4 375.0,364.0 381.9,368.5 390.6,374.4 395.0,378.2 402.9,386.0 410.8,393.9 418.7,402.6 426.5,410.5 434.4,418.4 442.3,424.7 450.2,427.4 456.5,428.2 462.8,426.3 469.1,421.5 473.9,416.8 476.5,414.4"/>
<text x="0.3" y="356.5" textLength="76.8" lengthAdjust="spacingAndGlyphs" stroke="#0c0c0c" stroke-width="0.18">MACD(12,26,9) 1.4128 0.6305</text>
<text x="609.6" y="355.1" textLength="17.2" lengthAdjust="spacingAndGlyphs" stroke="#0c0c0c" stroke-width="0.18">2.4686</text>
<rect x="608.0" y="434.1" width="4.3" height="5.7" fill="#111"/>
<text x="609.6" y="439.0" textLength="11.6" lengthAdjust="spacingAndGlyphs" stroke="#0c0c0c" stroke-width="0.18">0.00</text>
<text x="608.6" y="444.8" textLength="19.4" lengthAdjust="spacingAndGlyphs" stroke="#0c0c0c" stroke-width="0.18">-0.2515</text>
<line x1="0" y1="473.5" x2="607.5" y2="473.5" stroke="#c2c2c2" stroke-width="0.8" stroke-dasharray="1.83 1.825" stroke-dashoffset="0.885"/>
<line x1="0" y1="506.7" x2="607.5" y2="506.7" stroke="#c2c2c2" stroke-width="0.8" stroke-dasharray="1.83 1.825" stroke-dashoffset="0.885"/>
<polyline fill="none" stroke="#1e90ff" stroke-width="1.45" stroke-linejoin="round" points="0.0,497.1 2.1,497.1 7.0,488.4 11.9,482.0 16.8,482.9 21.6,485.0 26.5,489.3 31.4,491.5 36.3,486.7 41.2,485.3 46.1,486.2 50.9,481.8 55.8,481.5 60.7,478.4 65.6,484.6 70.5,484.4 75.4,483.9 80.3,485.0 85.1,491.5 90.0,490.7 94.9,493.3 99.8,490.5 104.7,490.4 109.6,485.1 114.5,484.8 119.3,491.1 124.2,492.3 129.1,485.9 134.0,485.9 138.9,492.6 143.8,488.0 148.6,484.5 153.5,483.3 158.4,481.0 163.3,473.7 168.2,469.7 173.1,469.2 178.0,467.7 182.8,469.4 187.7,467.1 192.6,466.8 197.5,462.3 202.4,461.9 207.3,459.3 212.2,462.2 217.0,459.3 221.9,467.6 226.8,475.1 231.7,476.3 236.6,473.2 241.5,472.8 246.3,470.2 251.2,469.9 256.1,469.7 261.0,468.5 265.9,465.9 270.8,465.5 275.7,465.4 280.5,464.5 285.4,463.3 290.3,462.4 295.2,459.3 300.1,466.7 305.0,466.7 309.9,466.4 314.7,469.5 319.6,476.3 324.5,472.9 329.4,467.1 334.3,472.3 339.2,472.3 344.1,471.8 348.9,478.1 353.8,475.0 358.7,475.0 363.6,475.5 368.5,475.5 373.4,478.4 378.2,487.1 383.1,484.0 388.0,484.0 392.9,483.3 397.8,489.2 402.7,490.9 407.6,490.9 412.4,490.2 417.3,495.2 422.2,493.0 427.1,493.7 432.0,493.7 436.9,490.9 441.8,485.4 446.6,479.6 451.5,481.4 456.4,477.6 461.3,473.7 466.2,471.8 471.1,468.4 475.9,469.4"/>
<text x="0.3" y="455.6" textLength="40.4" lengthAdjust="spacingAndGlyphs" stroke="#0c0c0c" stroke-width="0.18">RSI(14) 74.7286</text>
<text x="609.5" y="454.4" textLength="9.2" lengthAdjust="spacingAndGlyphs" stroke="#0c0c0c" stroke-width="0.18">100</text>
<text x="609.5" y="475.8" textLength="5.6" lengthAdjust="spacingAndGlyphs" stroke="#0c0c0c" stroke-width="0.18">70</text>
<text x="609.5" y="508.9" textLength="5.6" lengthAdjust="spacingAndGlyphs" stroke="#0c0c0c" stroke-width="0.18">30</text>
<text x="609.5" y="529.9" textLength="2.9" lengthAdjust="spacingAndGlyphs" stroke="#0c0c0c" stroke-width="0.18">0</text>
<line x1="-2.90" y1="531.9" x2="-2.90" y2="534.3" stroke="#444" stroke-width="0.8"/>
<text x="-3.4" y="539.9" font-size="5.75" stroke="#0c0c0c" stroke-width="0.18">24 Jan 2022</text>
<line x1="36.18" y1="531.9" x2="36.18" y2="534.3" stroke="#444" stroke-width="0.8"/>
<text x="35.7" y="539.9" font-size="5.75" stroke="#0c0c0c" stroke-width="0.18">3 Feb 2022</text>
<line x1="75.26" y1="531.9" x2="75.26" y2="534.3" stroke="#444" stroke-width="0.8"/>
<text x="74.8" y="539.9" font-size="5.75" stroke="#0c0c0c" stroke-width="0.18">15 Feb 2022</text>
<line x1="114.34" y1="531.9" x2="114.34" y2="534.3" stroke="#444" stroke-width="0.8"/>
<text x="113.8" y="539.9" font-size="5.75" stroke="#0c0c0c" stroke-width="0.18">25 Feb 2022</text>
<line x1="153.42" y1="531.9" x2="153.42" y2="534.3" stroke="#444" stroke-width="0.8"/>
<text x="152.9" y="539.9" font-size="5.75" stroke="#0c0c0c" stroke-width="0.18">9 Mar 2022</text>
<line x1="192.50" y1="531.9" x2="192.50" y2="534.3" stroke="#444" stroke-width="0.8"/>
<text x="192.0" y="539.9" font-size="5.75" stroke="#0c0c0c" stroke-width="0.18">21 Mar 2022</text>
<line x1="231.58" y1="531.9" x2="231.58" y2="534.3" stroke="#444" stroke-width="0.8"/>
<text x="231.1" y="539.9" font-size="5.75" stroke="#0c0c0c" stroke-width="0.18">31 Mar 2022</text>
<line x1="270.66" y1="531.9" x2="270.66" y2="534.3" stroke="#444" stroke-width="0.8"/>
<text x="270.2" y="539.9" font-size="5.75" stroke="#0c0c0c" stroke-width="0.18">12 Apr 2022</text>
<line x1="309.74" y1="531.9" x2="309.74" y2="534.3" stroke="#444" stroke-width="0.8"/>
<text x="309.2" y="539.9" font-size="5.75" stroke="#0c0c0c" stroke-width="0.18">22 Apr 2022</text>
<line x1="348.82" y1="531.9" x2="348.82" y2="534.3" stroke="#444" stroke-width="0.8"/>
<text x="348.3" y="539.9" font-size="5.75" stroke="#0c0c0c" stroke-width="0.18">4 May 2022</text>
<line x1="387.90" y1="531.9" x2="387.90" y2="534.3" stroke="#444" stroke-width="0.8"/>
<text x="387.4" y="539.9" font-size="5.75" stroke="#0c0c0c" stroke-width="0.18">16 May 2022</text>
<line x1="426.98" y1="531.9" x2="426.98" y2="534.3" stroke="#444" stroke-width="0.8"/>
<text x="426.5" y="539.9" font-size="5.75" stroke="#0c0c0c" stroke-width="0.18">26 May 2022</text>
<line x1="466.06" y1="531.9" x2="466.06" y2="534.3" stroke="#444" stroke-width="0.8"/>
<text x="465.6" y="539.9" font-size="5.75" stroke="#0c0c0c" stroke-width="0.18">7 Jun 2022</text>
<rect x="608.0" y="2.10" width="26" height="7.5" fill="#fff"/>
<rect x="608.0" y="2.70" width="25.4" height="6.1" fill="#0a740a"/>
<text x="611.0" y="7.6" textLength="19.9" lengthAdjust="spacingAndGlyphs" fill="#fff" stroke="#fff" stroke-width="0.18">135.143</text>
<rect x="608.0" y="19.00" width="26" height="7.5" fill="#fff"/>
<rect x="608.0" y="19.60" width="25.4" height="6.1" fill="#000"/>
<text x="611.0" y="24.5" textLength="19.9" lengthAdjust="spacingAndGlyphs" fill="#fff" stroke="#fff" stroke-width="0.18">134.072</text>
<rect x="608.0" y="35.70" width="26" height="7.5" fill="#fff"/>
<rect x="608.0" y="36.30" width="25.4" height="6.1" fill="#0a740a"/>
<text x="611.0" y="41.2" textLength="19.9" lengthAdjust="spacingAndGlyphs" fill="#fff" stroke="#fff" stroke-width="0.18">132.987</text>
<rect x="608.0" y="61.40" width="26" height="7.5" fill="#fff"/>
<rect x="608.0" y="62.00" width="25.4" height="6.1" fill="#ff0000"/>
<text x="611.0" y="66.9" textLength="19.9" lengthAdjust="spacingAndGlyphs" fill="#fff" stroke="#fff" stroke-width="0.18">131.287</text>
<rect x="608.0" y="69.40" width="26" height="7.5" fill="#fff"/>
<rect x="608.0" y="70.00" width="25.4" height="6.1" fill="#ff0000"/>
<text x="611.0" y="74.9" textLength="19.9" lengthAdjust="spacingAndGlyphs" fill="#fff" stroke="#fff" stroke-width="0.18">130.785</text>
<rect x="608.0" y="89.60" width="26" height="7.5" fill="#fff"/>
<rect x="608.0" y="90.20" width="25.4" height="6.1" fill="#ff0000"/>
<text x="611.0" y="95.1" textLength="19.9" lengthAdjust="spacingAndGlyphs" fill="#fff" stroke="#fff" stroke-width="0.18">129.471</text>
<rect x="608.0" y="137.20" width="26" height="7.5" fill="#fff"/>
<rect x="608.0" y="137.80" width="25.4" height="6.1" fill="#ff0000"/>
<text x="611.0" y="142.7" textLength="19.9" lengthAdjust="spacingAndGlyphs" fill="#fff" stroke="#fff" stroke-width="0.18">126.342</text>
</svg>
</body></html>
